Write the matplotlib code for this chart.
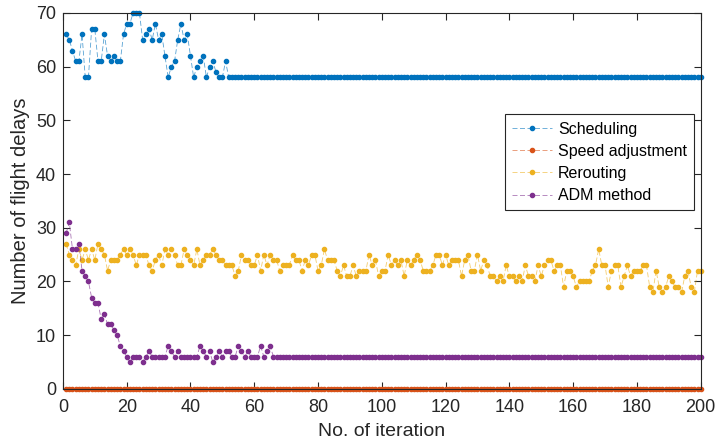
import numpy as np
import matplotlib.pyplot as plt
from matplotlib.colors import to_rgba

plt.rcParams['font.family'] = ['Liberation Sans', 'DejaVu Sans']

# iteration index and delay counts for each strategy
iters = np.arange(1, 201)

scheduling_head = [66, 65, 63, 61, 61, 66, 58, 58, 67, 67, 61, 61, 66, 62, 61, 62, 61, 61,
                   66, 68, 68, 70, 70, 70, 65, 66, 67, 65, 68, 65, 66, 62, 58, 60, 61, 65,
                   68, 65, 66, 62, 58, 60, 61, 62, 58, 60, 61, 59, 58, 58, 61, 58]
scheduling = scheduling_head + [58] * (200 - len(scheduling_head))

speed_adjustment = [0] * 200

rerouting = [27, 25, 24, 23, 26, 24, 26, 24, 26, 24, 27, 26, 25, 22, 24, 24, 24, 25, 26, 25,
             26, 25, 23, 25, 25, 25, 23, 22, 24, 25, 23, 26, 25, 26, 25, 23, 23, 26, 25, 24,
             23, 26, 23, 24, 25, 25, 26, 25, 24, 24, 23, 23, 23, 21, 22, 25, 24, 24, 23, 23,
             25, 22, 25, 23, 25, 24, 24, 22, 23, 23, 23, 25, 24, 24, 22, 24, 23, 25, 25, 22,
             23, 26, 24, 24, 24, 22, 21, 23, 21, 21, 23, 21, 22, 22, 22, 25, 23, 24, 21, 22,
             22, 25, 23, 24, 23, 24, 21, 24, 23, 24, 25, 24, 22, 22, 22, 23, 25, 25, 23, 25,
             23, 24, 24, 24, 21, 24, 25, 22, 22, 25, 22, 24, 23, 21, 21, 20, 21, 20, 23, 21,
             21, 20, 21, 20, 23, 21, 21, 20, 23, 21, 23, 24, 24, 22, 23, 23, 19, 22, 22, 21,
             19, 20, 20, 20, 20, 22, 23, 26, 23, 23, 19, 22, 23, 23, 19, 21, 23, 21, 22, 22,
             22, 23, 23, 19, 18, 22, 19, 18, 19, 21, 20, 19, 19, 18, 21, 22, 19, 18, 22, 22]

adm_head = [29, 31, 26, 26, 27, 22, 21, 20, 17, 16, 16, 13, 14, 12, 12, 11, 10, 8, 7, 6,
            5, 6, 6, 6, 5, 6, 7, 6, 6, 6, 6, 6, 8, 7, 6, 7, 6, 6, 6, 6,
            6, 6, 8, 7, 6, 7, 5, 6, 7, 6, 7, 7, 6, 6, 8, 7, 6, 7, 6, 6,
            6, 8, 6, 7, 8]
adm_method = adm_head + [6] * (200 - len(adm_head))

series = [
    ('Scheduling', scheduling, '#0072BD'),
    ('Speed adjustment', speed_adjustment, '#D95319'),
    ('Rerouting', rerouting, '#EDB120'),
    ('ADM method', adm_method, '#7E2F8E'),
]

fig = plt.figure(figsize=(7.15, 4.47), dpi=100)
ax = fig.add_axes([0.088, 0.130, 0.892, 0.841])

for name, vals, col in series:
    # thin, slightly faded connecting dashes with solid dot markers
    ax.plot(iters, vals, linestyle='--', dashes=(6, 3), linewidth=0.6,
            color=to_rgba(col, 0.65), marker='.', markersize=6,
            markerfacecolor=col, markeredgecolor=col, label=name, clip_on=False)

ax.set_xlim(0, 200)
ax.set_ylim(0, 70)
ax.set_xticks(np.arange(0, 201, 20))
ax.set_yticks(np.arange(0, 71, 10))
ax.tick_params(direction='in', top=True, right=True, labelsize=13, length=5, width=0.8,
               colors='#262626', labelcolor='#262626')
ax.tick_params(axis='x', pad=7)
ax.tick_params(axis='y', pad=5)
for sp in ax.spines.values():
    sp.set_linewidth(0.8)
    sp.set_color('#262626')

ax.set_xlabel('No. of iteration', fontsize=14, color='#262626', labelpad=5)
ax.set_ylabel('Number of flight delays', fontsize=14.5, color='#262626', labelpad=4)

leg = ax.legend(loc='upper right', bbox_to_anchor=(0.99, 0.73), fontsize=11.5,
                fancybox=False, framealpha=1, edgecolor='#262626', handlelength=2.5,
                labelspacing=0.45, borderpad=0.45, handletextpad=0.4, borderaxespad=0)
leg.get_frame().set_linewidth(0.8)

fig.savefig('out.png', dpi=100)
